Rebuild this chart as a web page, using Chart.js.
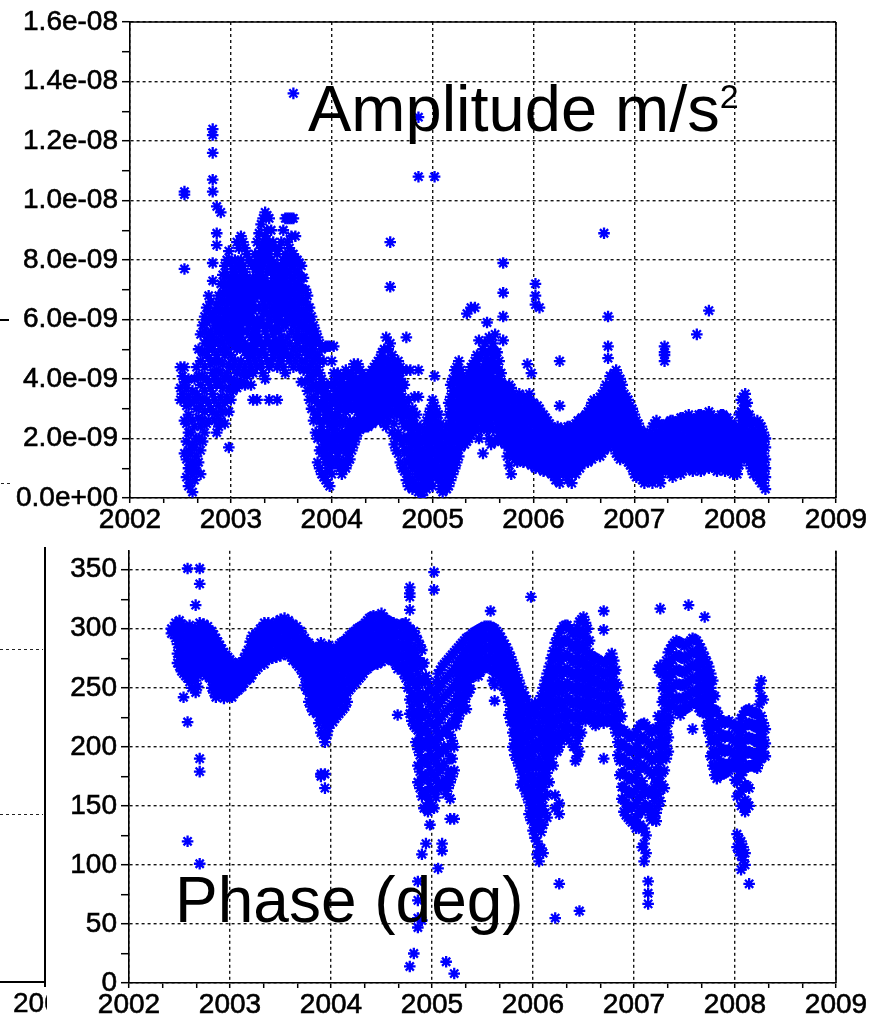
<!DOCTYPE html>
<html><head><meta charset="utf-8">
<script src="https://cdn.jsdelivr.net/npm/chart.js@4.4.1/dist/chart.umd.min.js"></script>
<style>
html,body{margin:0;padding:0;background:#fff;}
body{width:869px;height:1015px;position:relative;overflow:hidden;font-family:"Liberation Sans",Arial,sans-serif;}
canvas{position:absolute;left:0;}
.t{position:absolute;color:#000;white-space:nowrap;line-height:1;}
.ln{position:absolute;background:#000;}
.dot{position:absolute;height:1.3px;background:repeating-linear-gradient(to right,#222 0 3px,transparent 3px 6px);}
</style></head><body>
<canvas id="c1" width="869" height="545" style="top:0"></canvas>
<canvas id="c2" width="869" height="485" style="top:530px"></canvas>

<div class="ln" style="left:0;top:319px;width:9px;height:1.5px"></div>
<div class="dot" style="left:1px;top:483px;width:11px"></div>
<div class="ln" style="left:44px;top:547px;width:1.5px;height:440px"></div>
<div class="ln" style="left:0;top:981px;width:45px;height:1.5px"></div>
<div class="dot" style="left:0;top:649px;width:43px"></div>
<div class="dot" style="left:0;top:814px;width:43px"></div>
<div style="position:absolute;left:0;top:989px;width:47px;height:26px;overflow:hidden">
  <span class="t" style="left:13px;top:0;font-size:28px;-webkit-text-stroke:0.5px #000">2004</span>
</div>

<div class="t" style="left:308px;top:76px;font-size:65px">Amplitude m/s<span style="font-size:34px;vertical-align:23px">2</span></div>
<div class="t" style="left:175px;top:868px;font-size:64px">Phase (deg)</div>

<script>
// ---- tick labels ----
const yearTicks = [2002, 2003, 2004, 2005, 2006, 2007, 2008, 2009];
const ampTicks = [0, 2, 4, 6, 8, 10, 12, 14, 16];      // units of 1e-9 m/s^2
const phaseTicks = [0, 50, 100, 150, 200, 250, 300, 350];

// ---- amplitude (1e-9 m/s^2): [time, values...] ----
const amp2002 = [
[2002.50, 4.4, 3.7, 3.3],
[2002.54, 10.3, 10.2, 7.7, 4.4, 3.9, 3.3, 2.6, 1.5],
[2002.58, 4.0, 3.4, 2.8, 2.2, 1.6, 1.0, 0.4],
[2002.62, 3.6, 2.6, 1.8, 1.2, 0.8, 0.2],
[2002.66, 4.4, 3.5, 3.0, 2.0, 1.4, 0.9],
[2002.70, 5.5, 4.6, 3.8, 3.1, 2.4, 1.6, 0.8],
[2002.74, 6.1, 5.6, 5.2, 4.4, 3.6, 2.9, 2.2],
[2002.78, 6.8, 6.3, 5.5, 5.0, 4.7, 3.9, 3.2, 2.6],
[2002.82, 12.4, 12.2, 11.6, 10.7, 10.3, 7.9, 7.3, 6.0, 5.4, 5.0, 4.2, 3.5, 2.9],
[2002.86, 9.8, 8.9, 8.5, 6.5, 6.0, 5.6, 4.8, 4.3, 3.8, 2.8, 2.2],
[2002.90, 9.6, 7.2, 6.6, 6.0, 5.5, 5.0, 4.2, 3.4, 2.6],
[2002.94, 7.8, 7.2, 6.6, 6.1, 5.6, 4.8, 4.0, 3.2, 2.5],
[2002.98, 8.3, 7.2, 6.7, 6.2, 5.7, 5.3, 4.5, 3.7, 2.9, 1.7]
];
const amp2003 = [
[2003.02, 7.6, 7.2, 6.8, 6.4, 6.0, 5.6, 5.2, 4.4, 3.6],
[2003.06, 8.6, 7.4, 7.0, 6.6, 6.2, 5.8, 5.4, 5.0, 4.2, 3.7],
[2003.10, 8.8, 8.0, 7.5, 7.0, 6.6, 6.2, 5.8, 5.4, 4.6, 3.9],
[2003.14, 8.4, 7.6, 7.2, 6.8, 6.4, 6.0, 5.2, 4.4, 3.8],
[2003.18, 8.0, 7.3, 6.9, 6.6, 6.2, 5.8, 5.0, 4.6, 4.2],
[2003.22, 7.8, 7.4, 7.0, 6.6, 6.3, 5.6, 5.2, 4.8, 4.2, 3.3],
[2003.26, 8.6, 8.0, 7.6, 7.2, 6.8, 6.0, 5.6, 5.2, 4.4, 3.3],
[2003.30, 9.2, 8.4, 8.0, 7.6, 7.2, 6.8, 6.0, 5.2, 4.5],
[2003.34, 9.6, 8.8, 8.4, 8.0, 7.2, 6.8, 6.4, 5.6, 5.2, 4.8, 4.0],
[2003.38, 9.4, 8.6, 8.2, 7.8, 7.0, 6.6, 6.0, 5.2, 4.4, 3.3],
[2003.42, 8.6, 7.9, 7.5, 7.1, 6.7, 6.3, 5.5, 5.1, 4.7],
[2003.46, 8.2, 7.8, 7.4, 7.0, 6.6, 6.2, 5.8, 5.0, 4.4, 3.3],
[2003.50, 8.6, 7.8, 7.4, 7.0, 6.6, 6.2, 5.4, 5.0, 4.6],
[2003.54, 9.4, 8.2, 7.8, 7.4, 7.0, 6.6, 6.2, 5.8, 5.0, 4.2],
[2003.58, 9.4, 8.4, 8.0, 7.6, 7.2, 6.8, 6.4, 6.0, 5.2, 4.6],
[2003.62, 13.6, 9.4, 8.2, 7.8, 7.4, 7.0, 6.6, 6.2, 5.8, 5.0, 4.4],
[2003.66, 8.0, 7.6, 7.2, 6.8, 6.4, 6.0, 5.6, 5.2, 4.8],
[2003.70, 7.8, 7.4, 7.0, 6.6, 6.2, 5.8, 5.4, 4.6, 3.9],
[2003.74, 7.0, 6.6, 6.2, 5.8, 5.4, 5.0, 4.6, 3.9],
[2003.78, 6.4, 6.0, 5.6, 5.2, 4.8, 4.4, 4.0, 3.3],
[2003.82, 5.8, 5.4, 5.0, 4.6, 4.2, 3.8, 3.4, 2.6],
[2003.86, 5.4, 4.8, 4.4, 3.6, 3.2, 2.8, 2.0, 1.2],
[2003.90, 5.0, 4.0, 3.6, 3.2, 2.4, 2.0, 1.6, 0.8],
[2003.94, 5.1, 3.6, 3.2, 2.8, 2.0, 1.6, 1.2, 0.6],
[2003.98, 5.1, 3.4, 3.0, 2.5, 1.8, 1.4, 1.1, 0.4]
];
const amp2004 = [
[2004.02, 5.1, 4.2, 3.8, 3.4, 2.6, 2.2, 1.8, 1.2],
[2004.06, 4.2, 3.5, 3.1, 2.8, 2.1, 1.7, 1.4],
[2004.10, 4.0, 3.6, 3.3, 2.6, 2.2, 1.9, 1.2, 0.8],
[2004.14, 4.3, 3.6, 3.2, 2.9, 2.2, 1.8, 1.5, 1.0],
[2004.18, 4.0, 3.6, 3.3, 2.6, 2.2, 1.9, 1.3],
[2004.22, 4.5, 3.8, 3.4, 3.1, 2.5, 2.1, 1.8],
[2004.26, 4.5, 3.9, 3.5, 3.2, 2.9, 2.6, 2.2],
[2004.30, 4.2, 3.8, 3.4, 3.0, 2.7, 2.5],
[2004.34, 4.0, 3.7, 3.3, 2.9, 2.6, 2.4],
[2004.38, 4.2, 3.9, 3.6, 3.2, 2.8, 2.5],
[2004.42, 4.4, 4.0, 3.6, 3.2, 2.9, 2.6],
[2004.46, 4.6, 4.2, 3.9, 3.5, 3.1, 2.7],
[2004.50, 4.9, 4.5, 4.2, 3.8, 3.5, 3.1, 2.8],
[2004.54, 5.4, 4.6, 4.2, 3.8, 3.4, 3.0, 2.4],
[2004.58, 8.6, 7.1, 5.2, 4.4, 4.0, 3.6, 3.2, 2.8],
[2004.62, 4.6, 4.2, 3.9, 3.5, 3.2, 2.5, 1.8],
[2004.66, 4.6, 4.2, 3.8, 3.4, 3.0, 2.2, 1.5],
[2004.70, 4.3, 3.8, 3.4, 3.0, 2.6, 1.8, 1.0],
[2004.74, 5.4, 4.3, 3.0, 2.5, 2.0, 1.6, 1.2, 0.6],
[2004.78, 4.3, 2.8, 2.4, 2.0, 1.6, 1.3, 0.6],
[2004.82, 3.4, 2.5, 2.1, 1.8, 1.4, 1.1, 0.5],
[2004.86, 12.8, 10.8, 4.3, 3.4, 2.2, 1.8, 1.4, 1.0, 0.7, 0.2],
[2004.90, 2.0, 1.6, 1.3, 1.0, 0.6, 0.1],
[2004.94, 2.6, 2.2, 1.8, 1.4, 1.0, 0.6, 0.3],
[2004.98, 3.0, 2.6, 2.2, 1.8, 1.4, 1.0, 0.6]
];
const amp2005 = [
[2005.02, 10.8, 4.1, 3.1, 2.7, 2.3, 1.9, 1.5, 1.1, 0.8],
[2005.06, 2.8, 2.4, 2.0, 1.6, 1.3, 0.9, 0.6],
[2005.10, 2.2, 1.8, 1.5, 1.1, 0.8, 0.5, 0.2],
[2005.14, 2.4, 2.0, 1.6, 1.3, 0.9, 0.6, 0.3],
[2005.18, 3.8, 3.4, 3.0, 2.6, 2.2, 1.8, 1.4, 1.0, 0.6],
[2005.22, 4.3, 3.9, 3.5, 3.1, 2.7, 2.3, 1.9, 1.4, 1.0],
[2005.26, 4.6, 4.2, 3.8, 3.4, 3.0, 2.6, 2.2, 1.8, 1.4],
[2005.30, 4.1, 3.7, 3.4, 3.0, 2.7, 2.3, 2.0],
[2005.34, 6.2, 4.0, 3.6, 3.3, 2.9, 2.6, 2.2, 1.9],
[2005.38, 6.4, 4.4, 4.0, 3.6, 3.2, 2.9, 2.5, 2.1],
[2005.42, 6.4, 4.6, 4.2, 3.8, 3.4, 3.0, 2.6, 2.3],
[2005.46, 5.3, 4.7, 4.3, 3.9, 3.5, 3.1, 2.7, 2.0],
[2005.50, 5.0, 4.4, 4.0, 3.6, 3.3, 2.9, 2.6, 1.5],
[2005.54, 5.9, 4.8, 4.3, 3.8, 3.4, 3.0, 2.6, 2.3],
[2005.58, 5.0, 4.6, 4.2, 3.8, 3.4, 3.0, 2.6, 1.8],
[2005.62, 5.5, 4.9, 4.4, 3.9, 3.5, 3.1, 2.7, 1.9],
[2005.66, 4.6, 4.2, 3.8, 3.4, 3.0, 2.6, 2.2],
[2005.70, 7.9, 6.9, 6.1, 5.3, 3.6, 3.2, 2.8, 2.4, 2.0],
[2005.74, 3.6, 3.2, 2.8, 2.5, 2.1, 1.8, 1.4],
[2005.78, 3.7, 3.3, 2.9, 2.6, 2.2, 1.9, 1.5, 0.8],
[2005.82, 3.4, 3.0, 2.7, 2.4, 2.0, 1.7, 1.3],
[2005.86, 3.5, 3.2, 2.8, 2.5, 2.1, 1.8, 1.4],
[2005.90, 3.4, 3.0, 2.6, 2.3, 1.9, 1.6, 1.2],
[2005.94, 4.5, 3.3, 3.0, 2.6, 2.2, 1.8, 1.5, 1.2],
[2005.98, 4.2, 3.2, 2.9, 2.5, 2.1, 1.8, 1.4, 1.1]
];
const amp2006 = [
[2006.02, 7.2, 6.8, 6.5, 3.0, 2.7, 2.3, 2.0, 1.6, 1.3, 1.0],
[2006.06, 6.4, 3.0, 2.6, 2.3, 1.9, 1.6, 1.3, 1.0],
[2006.10, 2.8, 2.4, 2.1, 1.8, 1.5, 1.2, 0.9],
[2006.14, 2.6, 2.3, 2.0, 1.7, 1.4, 1.1, 0.9],
[2006.18, 2.4, 2.1, 1.8, 1.5, 1.3, 1.0, 0.8],
[2006.22, 2.2, 1.9, 1.6, 1.3, 1.1, 0.8, 0.6],
[2006.26, 4.6, 3.1, 2.3, 2.0, 1.7, 1.4, 1.1, 0.9, 0.5],
[2006.30, 2.2, 1.9, 1.6, 1.4, 1.1, 0.8],
[2006.34, 2.4, 2.1, 1.8, 1.5, 1.2, 0.9, 0.6],
[2006.38, 2.3, 2.0, 1.7, 1.4, 1.1, 0.8, 0.5],
[2006.42, 2.5, 2.2, 1.9, 1.6, 1.3, 1.0, 0.8],
[2006.46, 2.6, 2.3, 2.0, 1.7, 1.4, 1.2, 1.0],
[2006.50, 2.7, 2.4, 2.1, 1.8, 1.5, 1.2],
[2006.54, 2.9, 2.6, 2.3, 2.0, 1.7, 1.4, 1.2],
[2006.58, 3.2, 2.8, 2.5, 2.2, 1.9, 1.6, 1.3],
[2006.62, 3.0, 2.7, 2.4, 2.1, 1.8, 1.5],
[2006.66, 3.4, 3.0, 2.7, 2.4, 2.0, 1.7, 1.4],
[2006.70, 8.9, 3.6, 3.2, 2.9, 2.6, 2.2, 1.9, 1.6],
[2006.74, 6.1, 5.1, 4.7, 3.7, 3.3, 3.0, 2.7, 2.3, 2.0, 1.7],
[2006.78, 4.0, 3.6, 3.3, 3.0, 2.6, 2.3, 2.0],
[2006.82, 4.3, 3.9, 3.6, 3.2, 2.9, 2.5, 2.2, 1.8, 1.5],
[2006.86, 4.0, 3.6, 3.3, 2.9, 2.6, 2.2, 1.9, 1.6, 1.3],
[2006.90, 3.5, 3.2, 2.8, 2.5, 2.1, 1.8, 1.4],
[2006.94, 3.3, 2.9, 2.6, 2.2, 1.9, 1.5, 1.2],
[2006.98, 3.0, 2.7, 2.3, 2.0, 1.6, 1.3, 1.0]
];
const amp2007 = [
[2007.02, 2.6, 2.3, 1.9, 1.6, 1.3, 1.0, 0.7],
[2007.06, 2.3, 2.0, 1.7, 1.4, 1.1, 0.8],
[2007.10, 2.2, 1.9, 1.6, 1.3, 1.0, 0.8, 0.5],
[2007.14, 2.0, 1.7, 1.4, 1.1, 0.9, 0.6],
[2007.18, 2.4, 2.0, 1.7, 1.4, 1.1, 0.8, 0.5],
[2007.22, 2.6, 2.2, 1.9, 1.6, 1.3, 1.0, 0.8],
[2007.26, 2.3, 2.0, 1.6, 1.3, 1.0, 0.7, 0.5],
[2007.30, 5.1, 4.9, 4.8, 4.6, 2.4, 2.0, 1.7, 1.4, 1.1],
[2007.34, 2.5, 2.2, 1.8, 1.5, 1.2, 0.9],
[2007.38, 2.6, 2.3, 1.9, 1.6, 1.3, 1.0, 0.7],
[2007.42, 2.4, 2.1, 1.7, 1.4, 1.1, 0.9],
[2007.46, 2.7, 2.4, 2.0, 1.7, 1.4, 1.1, 0.8],
[2007.50, 2.6, 2.3, 1.9, 1.6, 1.3, 1.0],
[2007.54, 2.8, 2.5, 2.1, 1.8, 1.5, 1.2, 1.0],
[2007.58, 2.5, 2.2, 1.8, 1.5, 1.2, 0.9],
[2007.62, 5.5, 2.7, 2.4, 2.0, 1.7, 1.4, 1.1],
[2007.66, 2.8, 2.5, 2.1, 1.8, 1.5, 1.2, 0.9],
[2007.70, 2.6, 2.3, 1.9, 1.6, 1.3, 1.0],
[2007.74, 6.3, 2.9, 2.6, 2.2, 1.9, 1.6, 1.3, 1.0],
[2007.78, 2.7, 2.4, 2.0, 1.7, 1.4, 1.1],
[2007.82, 2.5, 2.2, 1.8, 1.5, 1.2, 0.9],
[2007.86, 2.8, 2.5, 2.1, 1.8, 1.5, 1.2],
[2007.90, 2.7, 2.4, 2.0, 1.7, 1.4, 1.1, 0.9],
[2007.94, 2.6, 2.3, 1.9, 1.6, 1.3, 1.0],
[2007.98, 2.4, 2.1, 1.7, 1.4, 1.1, 0.8]
];
const amp2008 = [
[2008.02, 2.3, 2.0, 1.6, 1.3, 1.0, 0.8],
[2008.06, 3.3, 2.9, 2.6, 2.2, 1.9, 1.6, 1.3],
[2008.10, 3.5, 3.1, 2.8, 2.4, 2.1, 1.7, 1.4],
[2008.14, 2.8, 2.5, 2.1, 1.8, 1.5, 1.2],
[2008.18, 2.3, 2.0, 1.7, 1.4, 1.1, 0.8],
[2008.22, 2.6, 2.2, 1.9, 1.6, 1.3, 1.0, 0.7],
[2008.26, 2.4, 2.1, 1.7, 1.4, 1.1, 0.8, 0.5],
[2008.30, 2.0, 1.7, 1.3, 1.0, 0.7, 0.3]
];
// in-between samples of the dense amplitude band
const ampFillA = [
[2002.52, 4.1, 3.5],
[2002.56, 3.7, 3.1, 2.5, 1.9, 1.3, 0.7],
[2002.60, 3.2, 2.2, 1.5, 1.0, 0.5],
[2002.64, 4.0, 3.3, 2.4, 1.7, 1.1, 0.6],
[2002.68, 5.0, 4.1, 3.4, 2.7, 2.0, 1.2],
[2002.72, 5.8, 4.9, 4.1, 3.3, 2.6, 1.9],
[2002.76, 6.4, 5.9, 5.3, 4.8, 4.0, 3.3, 2.5],
[2002.80, 6.6, 6.1, 5.6, 5.2, 4.5, 3.7, 3.0],
[2002.84, 6.3, 5.8, 5.2, 4.6, 4.0, 3.3, 2.6],
[2002.88, 6.8, 6.3, 5.8, 5.3, 4.6, 3.9, 3.1, 2.4],
[2002.92, 7.5, 6.9, 6.3, 5.8, 5.2, 4.5, 3.7, 2.9],
[2002.96, 8.0, 7.5, 6.9, 6.4, 5.9, 5.4, 5.0, 4.2, 3.4],
[2003.00, 7.9, 7.4, 7.0, 6.6, 6.2, 5.8, 5.4, 4.8, 4.0, 3.3],
[2003.04, 8.0, 7.6, 7.2, 6.8, 6.4, 6.0, 5.6, 5.2, 4.6, 3.9],
[2003.08, 8.4, 7.8, 7.2, 6.8, 6.4, 6.0, 5.6, 5.2, 4.4, 3.8],
[2003.12, 8.6, 7.8, 7.3, 6.9, 6.5, 6.1, 5.6, 5.0, 4.2],
[2003.16, 8.2, 7.4, 7.0, 6.6, 6.2, 5.6, 4.8, 4.1],
[2003.20, 7.9, 7.2, 6.8, 6.4, 6.0, 5.4, 4.9, 4.4, 3.8],
[2003.24, 8.2, 7.8, 7.3, 6.9, 6.4, 5.8, 5.4, 5.0, 4.6],
[2003.28, 8.9, 8.2, 7.8, 7.4, 7.0, 6.4, 5.8, 5.4, 4.8],
[2003.32, 9.4, 8.6, 8.2, 7.8, 7.4, 7.0, 6.6, 6.2, 5.8, 5.0, 4.2],
[2003.36, 9.5, 9.0, 8.5, 8.1, 7.6, 7.2, 6.8, 6.2, 5.8, 5.4, 4.6],
[2003.40, 9.0, 8.4, 8.0, 7.6, 7.2, 6.8, 6.3, 5.7, 5.0, 4.5],
[2003.44, 8.4, 7.7, 7.3, 6.9, 6.5, 6.0, 5.6, 5.3, 4.9],
[2003.48, 8.4, 7.6, 7.2, 6.8, 6.4, 6.0, 5.6, 5.2, 4.7],
[2003.52, 9.0, 8.0, 7.6, 7.2, 6.8, 6.4, 5.8, 5.2, 4.8, 4.4],
[2003.56, 9.4, 8.6, 8.0, 7.6, 7.2, 6.8, 6.4, 6.0, 5.4, 4.8],
[2003.60, 9.4, 8.8, 8.2, 7.8, 7.4, 7.0, 6.6, 6.2, 5.6, 4.8],
[2003.64, 8.8, 8.0, 7.6, 7.2, 6.8, 6.4, 6.0, 5.4, 4.6],
[2003.68, 7.9, 7.4, 7.0, 6.6, 6.2, 5.8, 5.4, 5.0, 4.4],
[2003.72, 7.4, 7.0, 6.6, 6.2, 5.8, 5.4, 5.0, 4.3],
[2003.76, 6.8, 6.4, 6.0, 5.6, 5.2, 4.8, 4.3, 3.6],
[2003.80, 6.1, 5.7, 5.3, 4.9, 4.5, 4.1, 3.7, 3.0],
[2003.84, 5.6, 5.2, 4.7, 4.2, 3.8, 3.3, 2.8, 2.2],
[2003.88, 5.2, 4.6, 4.2, 3.8, 3.0, 2.6, 2.2, 1.6, 1.0],
[2003.92, 4.6, 3.8, 3.4, 3.0, 2.6, 2.2, 1.8, 1.4, 0.7],
[2003.96, 5.1, 3.8, 3.4, 3.0, 2.6, 2.2, 1.8, 1.4, 0.9, 0.5],
[2004.00, 4.6, 3.8, 3.2, 2.8, 2.4, 2.0, 1.6, 1.2, 0.8],
[2004.04, 4.0, 3.6, 3.2, 2.8, 2.4, 2.0, 1.6, 1.2],
[2004.08, 4.1, 3.8, 3.4, 3.0, 2.5, 2.0, 1.6, 1.0],
[2004.12, 4.1, 3.8, 3.4, 3.0, 2.6, 2.0, 1.7, 1.2],
[2004.16, 4.2, 3.8, 3.4, 3.0, 2.4, 2.1, 1.6, 1.2],
[2004.20, 4.2, 3.8, 3.5, 3.0, 2.4, 2.0, 1.6],
[2004.24, 4.4, 4.0, 3.7, 3.3, 3.0, 2.4, 2.0],
[2004.28, 4.3, 4.0, 3.6, 3.3, 2.9, 2.6, 2.3],
[2004.32, 4.1, 3.6, 3.2, 2.9, 2.6, 2.4],
[2004.36, 4.1, 3.8, 3.5, 3.1, 2.7, 2.4],
[2004.40, 4.3, 3.9, 3.5, 3.1, 2.8, 2.5],
[2004.44, 4.5, 4.1, 3.7, 3.3, 3.0, 2.6],
[2004.48, 4.7, 4.3, 4.0, 3.6, 3.3, 2.9, 2.6],
[2004.52, 5.0, 4.6, 4.3, 4.0, 3.6, 3.2, 2.8, 2.5],
[2004.56, 5.0, 4.6, 4.2, 3.8, 3.4, 3.0, 2.6],
[2004.60, 4.8, 4.4, 4.0, 3.7, 3.3, 2.9, 2.2],
[2004.64, 4.4, 4.0, 3.6, 3.3, 2.8, 2.0, 1.6],
[2004.68, 4.4, 4.0, 3.6, 3.2, 2.8, 2.0, 1.2],
[2004.72, 3.8, 3.2, 2.8, 2.4, 2.0, 1.5, 0.9],
[2004.76, 3.3, 2.8, 2.4, 2.0, 1.6, 1.2, 0.8, 0.4],
[2004.80, 3.0, 2.6, 2.2, 1.8, 1.4, 1.0, 0.6, 0.3],
[2004.84, 2.8, 2.4, 2.0, 1.6, 1.2, 0.8, 0.4],
[2004.88, 2.4, 2.0, 1.6, 1.2, 0.8, 0.4],
[2004.92, 2.3, 1.9, 1.5, 1.1, 0.8, 0.4],
[2004.96, 2.8, 2.4, 2.0, 1.6, 1.2, 0.8, 0.4]
];
const ampFillB = [
[2005.00, 3.3, 2.8, 2.4, 2.0, 1.6, 1.2, 0.8, 0.4],
[2005.04, 2.9, 2.5, 2.2, 1.8, 1.4, 1.0, 0.7],
[2005.08, 2.5, 2.1, 1.7, 1.3, 1.0, 0.7, 0.3],
[2005.12, 2.2, 1.8, 1.4, 1.1, 0.8, 0.4],
[2005.16, 3.2, 2.8, 2.4, 2.0, 1.6, 1.2, 0.8, 0.4],
[2005.20, 4.0, 3.6, 3.2, 2.8, 2.4, 2.0, 1.6, 1.2, 0.8],
[2005.24, 4.4, 4.0, 3.6, 3.2, 2.8, 2.4, 2.0, 1.6, 1.2],
[2005.28, 4.3, 3.9, 3.6, 3.2, 2.8, 2.5, 2.2, 1.7],
[2005.32, 3.9, 3.5, 3.2, 2.8, 2.5, 2.1, 1.8],
[2005.36, 4.2, 3.8, 3.4, 3.0, 2.7, 2.3, 2.0],
[2005.40, 4.5, 4.1, 3.7, 3.4, 3.0, 2.7, 2.3],
[2005.44, 4.8, 4.4, 4.0, 3.6, 3.2, 2.8, 2.4],
[2005.48, 4.8, 4.2, 3.8, 3.4, 3.1, 2.7, 2.3],
[2005.52, 5.2, 4.6, 4.2, 3.8, 3.5, 3.1, 2.8, 2.4],
[2005.56, 5.4, 4.5, 4.0, 3.6, 3.2, 2.8, 2.4, 2.0],
[2005.60, 5.2, 4.7, 4.3, 4.0, 3.6, 3.2, 2.8, 2.3],
[2005.64, 4.9, 4.4, 4.0, 3.6, 3.2, 2.8, 2.4, 2.0],
[2005.68, 4.2, 3.9, 3.5, 3.1, 2.7, 2.3, 1.9],
[2005.72, 3.8, 3.4, 3.0, 2.6, 2.2, 1.8],
[2005.76, 3.8, 3.4, 3.0, 2.7, 2.3, 2.0, 1.6, 1.1],
[2005.80, 3.5, 3.1, 2.8, 2.4, 2.1, 1.7, 1.4],
[2005.84, 3.3, 2.9, 2.6, 2.2, 1.9, 1.5, 1.2],
[2005.88, 3.3, 2.9, 2.6, 2.2, 1.9, 1.6, 1.3],
[2005.92, 3.2, 2.8, 2.4, 2.1, 1.7, 1.4],
[2005.96, 3.5, 3.1, 2.7, 2.3, 2.0, 1.6, 1.3],
[2006.00, 3.2, 2.8, 2.5, 2.1, 1.8, 1.5, 1.2],
[2006.04, 3.1, 2.8, 2.5, 2.1, 1.8, 1.4, 1.1],
[2006.08, 2.8, 2.5, 2.1, 1.8, 1.4, 1.1],
[2006.12, 2.7, 2.3, 1.9, 1.6, 1.3, 1.0],
[2006.16, 2.5, 2.2, 1.9, 1.6, 1.2, 0.9],
[2006.20, 2.3, 2.0, 1.7, 1.4, 1.1, 0.8],
[2006.24, 2.4, 2.1, 1.8, 1.5, 1.2, 0.9, 0.6],
[2006.28, 2.3, 2.0, 1.7, 1.5, 1.2, 0.9],
[2006.32, 2.3, 2.0, 1.7, 1.4, 1.1, 0.8],
[2006.36, 2.4, 2.1, 1.8, 1.5, 1.2, 0.9],
[2006.40, 2.4, 2.1, 1.8, 1.5, 1.2, 0.9],
[2006.44, 2.6, 2.3, 2.0, 1.7, 1.4, 1.1],
[2006.48, 2.7, 2.4, 2.1, 1.8, 1.5, 1.2],
[2006.52, 2.8, 2.5, 2.2, 1.9, 1.6, 1.3],
[2006.56, 3.0, 2.7, 2.4, 2.1, 1.8, 1.5],
[2006.60, 3.3, 3.0, 2.6, 2.3, 2.0, 1.7, 1.4],
[2006.64, 3.2, 2.9, 2.5, 2.2, 1.9, 1.6],
[2006.68, 3.5, 3.1, 2.8, 2.5, 2.2, 1.8, 1.5],
[2006.72, 3.8, 3.4, 3.1, 2.8, 2.4, 2.1, 1.8],
[2006.76, 4.1, 3.8, 3.5, 3.1, 2.8, 2.5, 2.1, 1.8],
[2006.80, 4.2, 3.8, 3.4, 3.1, 2.7, 2.4, 2.0, 1.7],
[2006.84, 4.1, 3.8, 3.4, 3.1, 2.7, 2.4, 2.0, 1.7, 1.4],
[2006.88, 3.8, 3.4, 3.1, 2.7, 2.4, 2.0, 1.7, 1.4],
[2006.92, 3.4, 3.0, 2.7, 2.3, 2.0, 1.6, 1.3],
[2006.96, 3.1, 2.8, 2.4, 2.1, 1.7, 1.4, 1.1],
[2007.00, 2.8, 2.5, 2.1, 1.8, 1.4, 1.1, 0.8],
[2007.04, 2.5, 2.1, 1.8, 1.5, 1.2, 0.9],
[2007.08, 2.2, 1.9, 1.5, 1.2, 0.9, 0.6],
[2007.12, 2.1, 1.8, 1.5, 1.2, 0.9, 0.7],
[2007.16, 2.2, 1.9, 1.5, 1.2, 1.0, 0.7],
[2007.20, 2.5, 2.1, 1.8, 1.5, 1.2, 0.9, 0.6],
[2007.24, 2.5, 2.1, 1.8, 1.4, 1.1, 0.8, 0.6],
[2007.28, 2.4, 2.1, 1.8, 1.5, 1.2, 0.9],
[2007.32, 2.5, 2.1, 1.8, 1.5, 1.2, 1.0],
[2007.36, 2.6, 2.4, 2.0, 1.7, 1.4, 1.1, 0.8],
[2007.40, 2.5, 2.2, 1.8, 1.5, 1.2, 0.9],
[2007.44, 2.6, 2.2, 1.9, 1.6, 1.3, 1.0],
[2007.48, 2.7, 2.4, 2.1, 1.8, 1.5, 1.2, 0.9],
[2007.52, 2.7, 2.4, 2.0, 1.7, 1.4, 1.1],
[2007.56, 2.7, 2.3, 2.0, 1.7, 1.4, 1.1],
[2007.60, 2.6, 2.3, 1.9, 1.6, 1.3, 1.0],
[2007.64, 2.8, 2.5, 2.2, 1.9, 1.6, 1.3, 1.0],
[2007.68, 2.7, 2.4, 2.0, 1.7, 1.4, 1.1],
[2007.72, 2.8, 2.4, 2.1, 1.8, 1.5, 1.2],
[2007.76, 2.8, 2.5, 2.2, 1.9, 1.5, 1.2],
[2007.80, 2.6, 2.3, 2.0, 1.7, 1.3, 1.0],
[2007.84, 2.7, 2.3, 2.0, 1.7, 1.4, 1.1],
[2007.88, 2.8, 2.5, 2.2, 1.9, 1.6, 1.3, 1.0],
[2007.92, 2.7, 2.4, 2.1, 1.8, 1.5, 1.2],
[2007.96, 2.5, 2.2, 1.8, 1.5, 1.2, 0.9],
[2008.00, 2.4, 2.1, 1.8, 1.5, 1.2, 0.9],
[2008.04, 2.8, 2.4, 2.1, 1.8, 1.5, 1.1],
[2008.08, 3.4, 3.0, 2.7, 2.3, 2.0, 1.6, 1.4],
[2008.12, 3.2, 2.8, 2.5, 2.1, 1.8, 1.5, 1.3],
[2008.16, 2.6, 2.2, 1.9, 1.6, 1.3, 1.0],
[2008.20, 2.5, 2.1, 1.8, 1.5, 1.2, 0.9],
[2008.24, 2.5, 2.2, 1.8, 1.5, 1.2, 0.9, 0.6],
[2008.28, 2.2, 1.9, 1.5, 1.2, 0.9, 0.5]
];

// ---- phase (deg): [time, values...] ----
const ph2002 = [
[2002.42, 300, 296],
[2002.46, 305, 298, 292],
[2002.50, 307, 300, 292, 284, 276, 268],
[2002.54, 302, 294, 286, 278, 270, 262, 242],
[2002.58, 351, 298, 290, 282, 274, 266, 258, 221, 120],
[2002.62, 300, 292, 284, 276, 268, 260, 250],
[2002.66, 320, 296, 288, 280, 272, 264, 256, 246],
[2002.70, 351, 338, 305, 297, 289, 281, 273, 265, 190, 179, 101],
[2002.74, 304, 296, 288, 280, 272, 264],
[2002.78, 302, 294, 286, 278, 270, 262],
[2002.82, 298, 290, 282, 274, 266, 258, 250],
[2002.86, 292, 284, 276, 268, 260, 250, 242],
[2002.90, 286, 278, 270, 262, 254, 246],
[2002.94, 280, 272, 264, 256, 248, 241],
[2002.98, 276, 268, 260, 252, 244]
];
const ph2003 = [
[2003.02, 272, 264, 256, 248, 242],
[2003.06, 270, 262, 254, 247],
[2003.10, 271, 264, 257, 250],
[2003.14, 275, 268, 261, 254],
[2003.18, 282, 274, 266, 258],
[2003.22, 294, 285, 277, 269, 261],
[2003.26, 296, 288, 280, 272, 265],
[2003.30, 300, 292, 284, 276, 270],
[2003.34, 305, 297, 289, 281, 274, 270],
[2003.38, 305, 297, 289, 281, 274],
[2003.42, 304, 297, 289, 281, 275],
[2003.46, 306, 299, 291, 283, 276],
[2003.50, 308, 300, 292, 284, 277],
[2003.54, 309, 302, 294, 286, 279],
[2003.58, 307, 300, 292, 284, 277],
[2003.62, 304, 296, 288, 280, 273],
[2003.66, 302, 294, 286, 278, 270],
[2003.70, 298, 290, 282, 274, 266],
[2003.74, 292, 284, 276, 268, 260, 252],
[2003.78, 288, 280, 272, 264, 256, 247, 238],
[2003.82, 285, 277, 269, 260, 250, 240, 230],
[2003.86, 283, 275, 266, 257, 248, 238, 228],
[2003.90, 288, 277, 268, 258, 248, 238, 226, 212, 177, 175],
[2003.94, 280, 270, 260, 250, 240, 230, 218, 204, 177, 165],
[2003.98, 286, 276, 266, 256, 246, 236, 226, 216]
];
const ph2004 = [
[2004.02, 280, 270, 260, 250, 240, 230, 221],
[2004.06, 284, 275, 266, 256, 246, 236, 226],
[2004.10, 288, 279, 270, 260, 250, 240, 230],
[2004.14, 290, 282, 273, 264, 254, 244, 234],
[2004.18, 294, 286, 277, 268, 258, 248],
[2004.22, 297, 289, 280, 271, 262, 252],
[2004.26, 300, 292, 283, 274, 265, 256],
[2004.30, 302, 294, 286, 277, 268, 260],
[2004.34, 305, 297, 289, 280, 272, 265],
[2004.38, 309, 301, 292, 283, 275, 268],
[2004.42, 311, 303, 294, 286, 278, 270],
[2004.46, 310, 302, 294, 286, 278, 270],
[2004.50, 313, 304, 296, 288, 280, 272],
[2004.54, 308, 300, 292, 284, 276],
[2004.58, 306, 298, 290, 282, 274],
[2004.62, 305, 297, 289, 281, 273],
[2004.66, 302, 294, 285, 276, 266, 227],
[2004.70, 304, 295, 286, 277, 268],
[2004.74, 305, 296, 287, 278, 268, 258],
[2004.78, 335, 330, 327, 316, 300, 288, 276, 264, 254, 240, 228, 14],
[2004.82, 298, 284, 270, 256, 243, 230, 218, 25],
[2004.86, 290, 275, 262, 250, 238, 226, 214, 198, 184, 170, 86, 70, 55, 47],
[2004.90, 282, 268, 254, 240, 226, 214, 200, 186, 172, 158, 109, 53],
[2004.94, 260, 245, 230, 218, 205, 190, 176, 162, 150, 118],
[2004.98, 250, 236, 222, 208, 194, 180, 166, 152, 134]
];
const ph2005 = [
[2005.02, 348, 333, 246, 232, 218, 204, 190, 176, 162, 148],
[2005.06, 262, 248, 234, 220, 206, 192, 178, 164, 97],
[2005.10, 268, 254, 240, 226, 212, 198, 184, 170, 118, 112],
[2005.14, 272, 258, 244, 230, 212, 196, 173, 160, 18],
[2005.18, 276, 262, 248, 234, 210, 190, 170, 156, 139],
[2005.22, 280, 266, 252, 238, 224, 200, 180, 139, 8],
[2005.26, 284, 272, 260, 248, 236, 224],
[2005.30, 288, 277, 266, 255, 244, 234],
[2005.34, 292, 282, 272, 262, 252, 243, 232],
[2005.38, 294, 285, 276, 267, 258, 249],
[2005.42, 297, 288, 279, 270, 262],
[2005.46, 299, 290, 281, 272, 263, 260],
[2005.50, 301, 292, 283, 274, 266],
[2005.54, 302, 294, 285, 276, 268],
[2005.58, 315, 302, 293, 284, 275, 266],
[2005.62, 300, 291, 282, 273, 264, 252, 239],
[2005.66, 296, 287, 278, 269, 260],
[2005.70, 290, 281, 272, 262, 252],
[2005.74, 284, 274, 264, 254, 244],
[2005.78, 276, 265, 254, 243, 232, 221],
[2005.82, 266, 254, 242, 230, 218, 206, 193],
[2005.86, 256, 244, 232, 220, 208, 196, 184],
[2005.90, 246, 234, 222, 210, 198, 186, 174],
[2005.94, 240, 228, 216, 204, 192, 180, 168, 158],
[2005.98, 327, 232, 220, 208, 196, 184, 172, 160, 148, 138]
];
const ph2006 = [
[2006.02, 237, 226, 212, 198, 184, 170, 158, 146, 134, 123],
[2006.06, 237, 220, 205, 190, 176, 163, 150, 138, 115, 103],
[2006.10, 250, 236, 222, 208, 194, 180, 166, 150, 134, 110],
[2006.14, 262, 248, 234, 220, 206, 192, 178, 160, 140],
[2006.18, 275, 260, 246, 232, 218, 204, 190],
[2006.22, 288, 274, 260, 246, 232, 218, 204, 159, 148, 55],
[2006.26, 296, 282, 268, 254, 240, 226, 212, 200, 152, 143, 84],
[2006.30, 302, 289, 276, 263, 250, 237, 224, 210],
[2006.34, 303, 291, 279, 267, 255, 243, 231, 219, 207],
[2006.38, 298, 286, 274, 262, 250, 238, 226, 214],
[2006.42, 296, 284, 272, 260, 248, 236, 224, 212, 200, 188],
[2006.46, 306, 294, 282, 270, 258, 246, 234, 222, 210, 196, 61],
[2006.50, 310, 298, 286, 274, 262, 250, 238, 226],
[2006.54, 300, 288, 276, 264, 252, 240, 228],
[2006.58, 277, 266, 256, 246, 236, 226],
[2006.62, 275, 265, 255, 245, 235, 225, 218],
[2006.66, 272, 262, 252, 242, 232, 222],
[2006.70, 315, 299, 270, 260, 250, 240, 230, 220, 190],
[2006.74, 272, 262, 252, 242, 232, 222],
[2006.78, 279, 268, 257, 246, 235, 224],
[2006.82, 265, 254, 243, 232, 222, 212],
[2006.86, 236, 224, 212, 200, 188, 176],
[2006.90, 214, 202, 190, 178, 166, 155, 145],
[2006.94, 210, 198, 186, 174, 162, 150, 140],
[2006.98, 208, 196, 184, 172, 160, 148, 136]
];
const ph2007 = [
[2007.02, 212, 200, 188, 176, 164, 152, 140, 131],
[2007.06, 218, 206, 194, 182, 170, 158, 146, 134],
[2007.10, 220, 208, 196, 184, 165, 150, 131, 118, 103],
[2007.14, 215, 204, 192, 180, 160, 148, 86, 76, 67],
[2007.18, 212, 200, 188, 176, 160, 146, 138],
[2007.22, 216, 204, 192, 180, 170, 158, 144, 137],
[2007.26, 317, 269, 263, 220, 208, 196, 187, 176, 164, 154],
[2007.30, 266, 254, 242, 230, 218, 206, 194, 180, 165],
[2007.34, 280, 268, 256, 244, 232, 220, 208, 196],
[2007.38, 286, 274, 262, 250, 238],
[2007.42, 290, 278, 266, 254, 242, 232],
[2007.46, 288, 276, 264, 252, 240, 230, 227],
[2007.50, 285, 274, 263, 252, 241, 232],
[2007.54, 320, 288, 277, 266, 255, 244, 234],
[2007.58, 292, 281, 270, 259, 248, 238, 215],
[2007.62, 290, 279, 268, 257, 246, 236],
[2007.66, 284, 273, 262, 251, 240, 230],
[2007.70, 310, 276, 265, 254, 243, 232],
[2007.74, 268, 256, 244, 232, 222, 212],
[2007.78, 256, 244, 232, 220, 208, 196, 184],
[2007.82, 230, 218, 206, 194, 182, 173],
[2007.86, 222, 210, 198, 186, 176],
[2007.90, 220, 208, 196, 184, 178],
[2007.94, 222, 210, 198, 186, 180],
[2007.98, 218, 206, 194, 184]
];
const ph2008 = [
[2008.02, 214, 202, 192, 182, 170, 158, 126, 115],
[2008.06, 224, 212, 200, 188, 176, 162, 150, 120, 108, 96],
[2008.10, 230, 218, 206, 194, 182, 168, 155, 145, 110, 100],
[2008.14, 232, 220, 208, 196, 184, 165, 150, 84],
[2008.18, 229, 218, 206, 194, 184],
[2008.22, 228, 216, 204, 192, 182],
[2008.26, 256, 243, 226, 214, 202, 190],
[2008.30, 215, 203, 192]
];
// in-between samples of the dense phase band
const phFillA = [
[2002.48, 303, 295, 287, 279, 271],
[2002.52, 304, 296, 288, 280, 272, 264],
[2002.56, 300, 292, 284, 276, 268, 260],
[2002.60, 303, 295, 287, 279, 271, 263, 255],
[2002.64, 298, 290, 282, 274, 266, 258],
[2002.68, 301, 293, 285, 277, 269, 261, 251],
[2002.72, 300, 292, 284, 276, 268],
[2002.76, 300, 292, 284, 276, 268, 260],
[2002.80, 298, 290, 282, 274, 266, 258],
[2002.84, 295, 287, 279, 271, 263, 255, 246],
[2002.88, 289, 281, 273, 265, 257, 249],
[2002.92, 283, 275, 267, 259, 251, 244],
[2002.96, 278, 270, 262, 254, 246],
[2003.00, 274, 266, 258, 250, 243],
[2003.04, 267, 259, 251, 245],
[2003.08, 267, 260, 253, 248],
[2003.12, 272, 265, 258, 251],
[2003.16, 279, 271, 263, 256],
[2003.20, 289, 280, 272, 264, 258],
[2003.24, 291, 283, 275, 267],
[2003.28, 297, 289, 281, 273, 267],
[2003.32, 301, 293, 285, 278, 272],
[2003.36, 301, 293, 285, 277],
[2003.40, 301, 293, 285, 278],
[2003.44, 303, 295, 287, 279],
[2003.48, 304, 296, 288, 280],
[2003.52, 305, 298, 290, 282],
[2003.56, 305, 297, 289, 281],
[2003.60, 303, 296, 288, 280],
[2003.64, 300, 292, 284, 276],
[2003.68, 298, 290, 282, 274, 268],
[2003.72, 294, 286, 278, 270, 262],
[2003.76, 288, 280, 272, 264, 256, 248],
[2003.80, 284, 276, 268, 260, 251, 243, 234],
[2003.84, 281, 273, 264, 255, 245, 235],
[2003.88, 282, 272, 263, 253, 243, 232, 220],
[2003.92, 284, 275, 265, 255, 245, 235, 224, 210],
[2003.96, 283, 273, 263, 253, 243, 233, 222, 210],
[2004.00, 283, 273, 263, 253, 243, 233, 224],
[2004.04, 282, 272, 262, 252, 242, 232, 224],
[2004.08, 286, 277, 268, 258, 248, 238, 228],
[2004.12, 289, 280, 271, 262, 252, 242, 232],
[2004.16, 292, 284, 275, 266, 256, 246, 238],
[2004.20, 295, 287, 278, 269, 260, 250],
[2004.24, 298, 290, 281, 272, 263, 254],
[2004.28, 301, 293, 284, 275, 266, 258],
[2004.32, 303, 295, 287, 278, 270, 262],
[2004.36, 307, 299, 290, 281, 273, 266],
[2004.40, 310, 302, 293, 284, 276, 269],
[2004.44, 310, 302, 294, 286, 278, 271],
[2004.48, 311, 303, 295, 287, 279, 272],
[2004.52, 310, 302, 294, 286, 278],
[2004.56, 307, 299, 291, 283, 275],
[2004.60, 305, 297, 289, 281, 273],
[2004.64, 303, 295, 287, 279, 270],
[2004.68, 303, 294, 285, 276, 267],
[2004.72, 304, 295, 286, 277, 268, 262],
[2004.76, 300, 291, 282, 272, 262, 250],
[2004.80, 294, 282, 270, 258, 246, 234, 222],
[2004.84, 294, 280, 266, 253, 240, 228, 216, 204],
[2004.88, 286, 271, 258, 245, 232, 220, 207, 193, 179, 165],
[2004.92, 271, 256, 242, 228, 215, 202, 188, 174, 160, 148],
[2004.96, 255, 240, 226, 213, 200, 186, 172, 158, 145]
];
const phFillB = [
[2005.00, 248, 234, 220, 206, 192, 178, 164, 150],
[2005.04, 255, 241, 227, 213, 199, 185, 171, 157],
[2005.08, 265, 251, 237, 223, 209, 195, 181, 167],
[2005.12, 270, 256, 242, 228, 214, 200, 186, 166],
[2005.16, 274, 260, 246, 232, 218, 200, 180, 165],
[2005.20, 278, 264, 250, 236, 220, 205, 190, 175],
[2005.24, 282, 269, 256, 243, 230, 218],
[2005.28, 286, 275, 263, 251, 240, 229],
[2005.32, 290, 280, 269, 258, 248, 238],
[2005.36, 293, 284, 274, 264, 255, 246],
[2005.40, 296, 287, 278, 268, 259],
[2005.44, 298, 289, 280, 271, 262],
[2005.48, 300, 291, 282, 273, 264],
[2005.52, 302, 293, 284, 275, 267],
[2005.56, 302, 294, 285, 276, 268],
[2005.60, 301, 292, 283, 274, 265, 256],
[2005.64, 298, 289, 280, 271, 262],
[2005.68, 293, 284, 275, 266, 256],
[2005.72, 287, 278, 268, 258, 248],
[2005.76, 280, 270, 259, 248, 238, 227],
[2005.80, 271, 260, 248, 236, 224, 212, 200],
[2005.84, 261, 249, 237, 225, 213, 201, 189],
[2005.88, 251, 239, 227, 215, 203, 191, 179, 168],
[2005.92, 243, 231, 219, 207, 195, 183, 171, 163],
[2005.96, 236, 224, 212, 200, 188, 176, 164, 153, 143],
[2006.00, 232, 218, 204, 190, 176, 164, 152, 140, 129],
[2006.04, 230, 214, 199, 184, 170, 157, 144, 132, 120, 109],
[2006.08, 243, 228, 213, 198, 184, 170, 157, 144, 128, 114],
[2006.12, 256, 242, 228, 214, 200, 186, 172, 158, 144],
[2006.16, 268, 254, 240, 226, 212, 198, 184, 170],
[2006.20, 281, 267, 253, 239, 225, 211, 197, 184],
[2006.24, 292, 278, 264, 250, 236, 222, 208, 196],
[2006.28, 299, 286, 273, 260, 246, 232, 218, 205],
[2006.32, 303, 290, 277, 264, 251, 238, 225, 213],
[2006.36, 300, 288, 276, 264, 252, 240, 228, 216, 205],
[2006.40, 297, 285, 273, 261, 249, 237, 225, 213, 200],
[2006.44, 301, 289, 277, 265, 253, 241, 229, 217, 205, 192],
[2006.48, 308, 296, 284, 272, 260, 248, 236, 224, 212],
[2006.52, 305, 293, 281, 269, 257, 245, 233, 222],
[2006.56, 290, 280, 270, 260, 250, 240, 230],
[2006.60, 276, 266, 256, 246, 236, 226, 220],
[2006.64, 274, 264, 254, 244, 234, 224],
[2006.68, 272, 262, 252, 242, 232, 222],
[2006.72, 273, 263, 253, 243, 233, 224],
[2006.76, 276, 265, 254, 243, 232, 222],
[2006.80, 273, 262, 251, 240, 229, 218],
[2006.84, 252, 240, 228, 216, 204, 193],
[2006.88, 226, 214, 202, 190, 178, 166, 156],
[2006.92, 212, 200, 188, 176, 164, 152, 142],
[2006.96, 209, 197, 185, 173, 161, 149, 138],
[2007.00, 210, 198, 186, 174, 162, 150, 138],
[2007.04, 215, 203, 191, 179, 167, 155, 143, 133],
[2007.08, 219, 207, 195, 183, 171, 159, 145, 130, 115],
[2007.12, 218, 206, 194, 182, 164, 150, 125, 110],
[2007.16, 214, 202, 190, 178, 162, 150, 140],
[2007.20, 214, 202, 190, 178, 166, 154, 141],
[2007.24, 266, 226, 214, 202, 190, 180, 170, 160, 150],
[2007.28, 262, 250, 238, 226, 214, 202, 190, 178, 168],
[2007.32, 273, 261, 249, 237, 225, 213, 201, 190],
[2007.36, 283, 271, 259, 247, 235, 225],
[2007.40, 288, 276, 264, 252, 240, 234],
[2007.44, 289, 277, 265, 253, 241, 231],
[2007.48, 287, 275, 263, 252, 241, 231],
[2007.52, 287, 276, 265, 254, 243, 233],
[2007.56, 290, 279, 268, 257, 246, 236],
[2007.60, 291, 280, 269, 258, 247, 237],
[2007.64, 287, 276, 265, 254, 243, 233],
[2007.68, 280, 270, 259, 248, 237, 229],
[2007.72, 272, 261, 250, 239, 228, 218],
[2007.76, 262, 250, 238, 226, 215, 204, 192],
[2007.80, 243, 231, 219, 207, 195, 184, 176],
[2007.84, 226, 214, 202, 190, 179],
[2007.88, 221, 209, 197, 185, 177],
[2007.92, 221, 209, 197, 185, 179],
[2007.96, 220, 208, 196, 185],
[2008.00, 216, 204, 193, 183, 172],
[2008.04, 219, 207, 196, 185, 173, 160, 122, 111],
[2008.08, 227, 215, 203, 191, 179, 165, 152, 115, 104],
[2008.12, 231, 219, 207, 195, 183, 167, 153],
[2008.16, 230, 219, 207, 195, 184],
[2008.20, 228, 217, 205, 193, 183],
[2008.24, 250, 236, 222, 210, 198, 187],
[2008.28, 240, 220, 208, 196]
];

// ---- helpers ----
const toPoints = groups => groups.flatMap(rows => rows.flatMap(r => r.slice(1).map(v => ({x: r[0], y: v}))));
const ampPoints = toPoints([amp2002, amp2003, amp2004, amp2005, amp2006, amp2007, amp2008, ampFillA, ampFillB]);
const phPoints = toPoints([ph2002, ph2003, ph2004, ph2005, ph2006, ph2007, ph2008, phFillA, phFillB]);

const near = (a, list) => list.some(b => Math.abs(a - b) < 1e-6);
const xTickVals = yearTicks.flatMap((y, i) => i < yearTicks.length - 1 ? [y, y + 1/3, y + 2/3] : [y]);
const halfSteps = arr => arr.flatMap((v, i) => i < arr.length - 1 ? [v, (v + arr[i+1]) / 2] : [v]);
const ampTickVals = halfSteps(ampTicks);
const phTickVals = halfSteps(phaseTicks);

const fmtAmp = v => v === 0 ? '0.0e+00' : (v >= 10 ? (v/10).toFixed(1) + 'e-08' : v.toFixed(1) + 'e-09');

const FONT = {family: '"Liberation Sans", Arial, sans-serif', size: 28};
const GRID_DOT = 'rgba(10,10,10,0.95)';

function xAxis(h) {
  return {
    type: 'linear', min: 2002, max: 2009,
    afterBuildTicks: s => { s.ticks = xTickVals.map(v => ({value: v})); },
    afterFit: s => { s.height = h; },
    ticks: {autoSkip: false, maxRotation: 0, padding: 0, color: '#000', font: FONT,
      textStrokeColor: '#000', textStrokeWidth: 0.6,
      callback: v => near(v, yearTicks) ? String(Math.round(v)) : ''},
    grid: {color: c => (c.tick && near(c.tick.value, yearTicks)) ? GRID_DOT : 'rgba(0,0,0,0)',
      lineWidth: 1.4, tickLength: 5, tickColor: '#000', tickWidth: 1.5},
    border: {display: true, color: '#000', width: 1.6, dash: [3, 3]}
  };
}
function yAxis(w, min, max, vals, majors, fmt) {
  return {
    type: 'linear', min, max,
    afterBuildTicks: s => { s.ticks = vals.map(v => ({value: v})); },
    afterFit: s => { s.width = w; },
    ticks: {autoSkip: false, padding: 4, color: '#000', font: FONT,
      textStrokeColor: '#000', textStrokeWidth: 0.6,
      callback: v => near(v, majors) ? fmt(v) : ''},
    grid: {color: c => (c.tick && near(c.tick.value, majors)) ? GRID_DOT : 'rgba(0,0,0,0)',
      lineWidth: 1.4, tickLength: 8, tickColor: '#000', tickWidth: 1.5},
    border: {display: true, color: '#000', width: 1.6, dash: [3, 3]}
  };
}

const framePlugin = {
  id: 'frame',
  afterDraw(chart, args, opts) {
    const {ctx, chartArea: a} = chart;
    ctx.save();
    ctx.strokeStyle = '#000'; ctx.lineWidth = 1.6; ctx.setLineDash([]);
    ctx.beginPath();
    if (opts.top) { ctx.moveTo(a.left, a.top); ctx.lineTo(a.right, a.top); }
    ctx.moveTo(a.right, a.top); ctx.lineTo(a.right, a.bottom);
    ctx.stroke();
    ctx.restore();
  }
};

const ds = pts => ({
  data: pts, showLine: false, pointStyle: 'star', pointRadius: 5.8, pointHoverRadius: 5.8,
  borderColor: '#0000ff', backgroundColor: '#0000ff', pointBorderWidth: 2.3, borderWidth: 2.3
});

const common = {
  responsive: false, animation: false, events: [],
  plugins: {legend: {display: false}, tooltip: {enabled: false}}
};

new Chart(document.getElementById('c1'), {
  type: 'scatter',
  data: {datasets: [ds(ampPoints)]},
  options: Object.assign({}, common, {
    layout: {padding: {left: 0, right: 33, top: 22, bottom: 0}, autoPadding: false},
    plugins: Object.assign({}, common.plugins, {frame: {top: true}}),
    scales: {x: xAxis(47), y: yAxis(130, 0, 16, ampTickVals, ampTicks, fmtAmp)}
  }),
  plugins: [framePlugin]
});

new Chart(document.getElementById('c2'), {
  type: 'scatter',
  data: {datasets: [ds(phPoints)]},
  options: Object.assign({}, common, {
    layout: {padding: {left: 0, right: 33, top: 17, bottom: 0}, autoPadding: false},
    plugins: Object.assign({}, common.plugins, {frame: {top: false}}),
    scales: {x: xAxis(32), y: yAxis(129, 0, 366, phTickVals, phaseTicks, v => String(Math.round(v)))}
  }),
  plugins: [framePlugin]
});
</script>
</body></html>
